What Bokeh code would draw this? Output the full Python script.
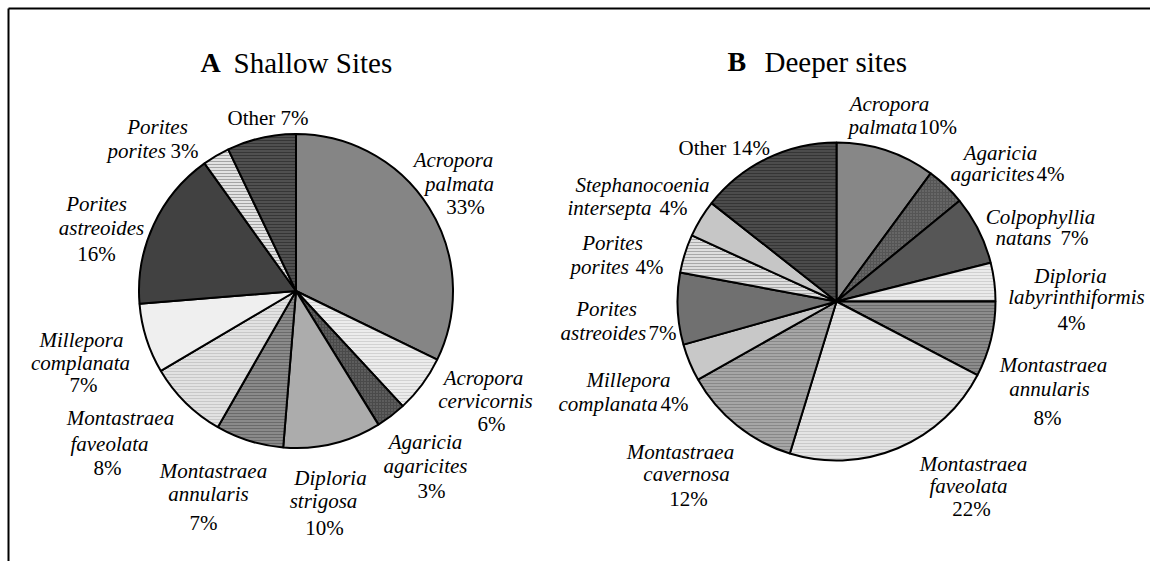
import numpy as np
from bokeh.plotting import figure
from bokeh.models import ColumnDataSource, Range1d
from bokeh.core.properties import value
from bokeh.embed import file_html
from bokeh.resources import INLINE

# ---------------- data ----------------
shallow_species = ["Acropora palmata", "Acropora cervicornis", "Agaricia agaricites",
                   "Diploria strigosa", "Montastraea annularis", "Montastraea faveolata",
                   "Millepora complanata", "Porites astreoides", "Porites porites", "Other"]
shallow_values = [32.2, 5.9, 3.1, 10.1, 7.0, 8.2, 7.2, 16.4, 2.8, 7.1]
shallow_pct = ["33%", "6%", "3%", "10%", "7%", "8%", "7%", "16%", "3%", "7%"]

deeper_species = ["Acropora palmata", "Agaricia agaricites", "Colpophyllia natans",
                  "Diploria labyrinthiformis", "Montastraea annularis", "Montastraea faveolata",
                  "Montastraea cavernosa", "Millepora complanata", "Porites astreoides",
                  "Porites porites", "Stephanocoenia intersepta", "Other"]
deeper_values = [10.1, 4.0, 7.0, 3.9, 7.7, 22.1, 12.1, 3.8, 7.3, 3.9, 3.8, 14.4]
deeper_pct = ["10%", "4%", "7%", "4%", "8%", "22%", "12%", "4%", "7%", "4%", "4%", "14%"]

titles = [("A", "Shallow Sites"), ("B", "Deeper sites")]

# ---------------- styles ----------------
shallow_fill = ["#858585", "#ececec", "#4a4a4a", "#acacac", "#8a8a8a", "#e2e2e2",
                "#efefef", "#414141", "#e2e2e2", "#505050"]
shallow_hatch = [" ", "horizontal_line", "dot", " ", "horizontal_line", "horizontal_line",
                 " ", " ", "horizontal_line", "horizontal_line"]
shallow_hcol = ["#858585", "#d2d2d2", "#7a7a7a", "#acacac", "#6a6a6a", "#c8c8c8",
                "#efefef", "#414141", "#a4a4a4", "#363636"]

deeper_fill = ["#878787", "#555555", "#565656", "#eaeaea", "#8c8c8c", "#e4e4e4",
               "#a6a6a6", "#c8c8c8", "#707070", "#dedede", "#c6c6c6", "#4c4c4c"]
deeper_hatch = [" ", "dot", " ", "horizontal_line", "horizontal_line", "horizontal_line",
                "horizontal_line", " ", " ", "horizontal_line", " ", "horizontal_line"]
deeper_hcol = ["#878787", "#808080", "#565656", "#d0d0d0", "#6e6e6e", "#cacaca",
               "#888888", "#c8c8c8", "#707070", "#a8a8a8", "#c6c6c6", "#353535"]

W, H = 1150, 561


def Y(sy):
    return H - sy


p = figure(width=W, height=H, x_range=Range1d(0, W), y_range=Range1d(0, H),
           output_backend="svg", toolbar_location=None, min_border=0)
p.axis.visible = False
p.grid.visible = False
p.outline_line_color = None
p.background_fill_color = "white"

FONT = value("Liberation Serif")
LBL = "21px"


def draw_pie(cx, cy, r, vals, fills, hatches, hcols):
    v = np.array(vals, dtype=float)
    frac = v / v.sum()
    cum = np.concatenate([[0.0], np.cumsum(frac)])
    start = np.pi / 2 - 2 * np.pi * cum[1:]
    end = np.pi / 2 - 2 * np.pi * cum[:-1]
    src = ColumnDataSource(dict(start=start, end=end, fill=fills, hatch=hatches, hcol=hcols))
    p.wedge(x=cx, y=Y(cy), radius=r, start_angle="start", end_angle="end", source=src,
            fill_color="fill", hatch_pattern="hatch", hatch_color="hcol",
            hatch_scale=3, hatch_weight=1, line_color="black", line_width=2)


draw_pie(295.5, 290.5, 157, shallow_values, shallow_fill, shallow_hatch, shallow_hcol)
draw_pie(836, 301, 159, deeper_values, deeper_fill, deeper_hatch, deeper_hcol)

# label layout: (part, x, baseline y, align) in screen pixels
shallow_layout = [
    [("g", 453, 159, "center"), ("e", 459, 183, "center"), ("p", 465, 206, "center")],
    [("g", 483, 377, "center"), ("e", 485, 400, "center"), ("p", 491, 423, "center")],
    [("g", 425, 441, "center"), ("e", 425, 465, "center"), ("p", 431, 490, "center")],
    [("g", 330, 477, "center"), ("e", 323, 500, "center"), ("p", 324, 527, "center")],
    [("g", 213, 470, "center"), ("e", 208, 493, "center"), ("p", 203, 522, "center")],
    [("g", 120, 417, "center"), ("e", 109, 443, "center"), ("p", 107, 467, "center")],
    [("g", 81, 339, "center"), ("e", 80, 362, "center"), ("p", 83, 384, "center")],
    [("g", 96, 203, "center"), ("e", 101, 227, "center"), ("p", 96, 253, "center")],
    [("g", 157, 126, "center"), ("e", 107, 150, "left"), ("p", 170, 150, "left")],
    [("o", 227, 117, "left")],
]
deeper_layout = [
    [("g", 889, 103, "center"), ("e", 848, 126, "left"), ("p", 918, 126, "left")],
    [("g", 1000, 152, "center"), ("e", 950, 173, "left"), ("p", 1036, 173, "left")],
    [("g", 1040, 216, "center"), ("e", 995, 237, "left"), ("p", 1060, 237, "left")],
    [("g", 1070, 275, "center"), ("e", 1076, 296, "center"), ("p", 1071, 322, "center")],
    [("g", 1053, 364, "center"), ("e", 1049, 388, "center"), ("p", 1047, 417, "center")],
    [("g", 973, 463, "center"), ("e", 968, 485, "center"), ("p", 971, 508, "center")],
    [("g", 680, 451, "center"), ("e", 686, 473, "center"), ("p", 688, 498, "center")],
    [("g", 628, 379, "center"), ("e", 558, 403, "left"), ("p", 660, 403, "left")],
    [("g", 606, 308, "center"), ("e", 560, 332, "left"), ("p", 648, 332, "left")],
    [("g", 612, 242, "center"), ("e", 570, 266, "left"), ("p", 635, 266, "left")],
    [("g", 642, 184, "center"), ("e", 567, 207, "left"), ("p", 659, 207, "left")],
    [("o", 678, 147, "left")],
]


def draw_labels(species, pcts, layout, other_sep):
    for name, pct, parts in zip(species, pcts, layout):
        words = name.split(" ")
        for part, x, y, align in parts:
            if part == "g":
                txt, style = words[0], "italic"
            elif part == "e":
                txt, style = " ".join(words[1:]), "italic"
            elif part == "p":
                txt, style = pct, "normal"
            else:
                txt, style = name + other_sep + pct, "normal"
            p.text(x=[x], y=[Y(y)], text=[txt], text_font=FONT, text_font_size=LBL,
                   text_font_style=style, text_color="black", text_align=align,
                   text_baseline="alphabetic")


draw_labels(shallow_species, shallow_pct, shallow_layout, " ")
draw_labels(deeper_species, deeper_pct, deeper_layout, "  ")

# titles
for (letter, rest), (lx, rx, by) in zip(titles, [(200, 233, 62), (727, 764, 61)]):
    p.text(x=[lx], y=[Y(by)], text=[letter], text_font=FONT, text_font_size="28px",
           text_font_style="bold", text_color="black", text_align="left",
           text_baseline="alphabetic")
    p.text(x=[rx], y=[Y(by)], text=[rest], text_font=FONT, text_font_size="29px",
           text_font_style="normal", text_color="black", text_align="left",
           text_baseline="alphabetic")

# frame lines (top and left)
p.line(x=[8, W], y=[Y(8), Y(8)], line_color="black", line_width=2)
p.line(x=[8, 8], y=[Y(8), 0], line_color="black", line_width=2)

open("out.html", "w").write(file_html(p, INLINE))
